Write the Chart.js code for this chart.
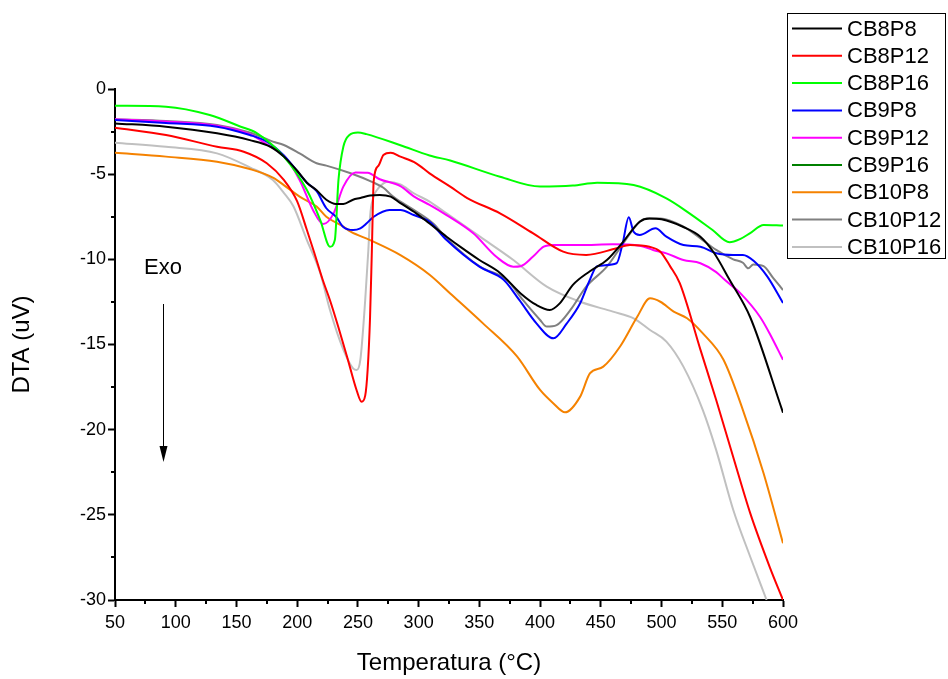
<!DOCTYPE html>
<html>
<head>
<meta charset="utf-8">
<script src="https://cdn.jsdelivr.net/npm/chart.js@4.4.1/dist/chart.umd.min.js"></script>
<style>
  html, body { margin: 0; padding: 0; background: #fff; }
  #wrap { width: 948px; height: 679px; position: relative; }
</style>
</head>
<body>
<div id="wrap"><canvas id="c" width="948" height="679"></canvas></div>
<script>
// ---- Data (temperature °C / DTA uV) ----
const seriesNames = ["CB8P8","CB8P12","CB8P16","CB9P8","CB9P12","CB9P16","CB10P8","CB10P12","CB10P16"];

const cb8p8T = [50,92,134,161,178,189,200,208,216,224,232,238,246,252,260,268,277,285,298,309,323,335,350,367,384,397,408,416,427,441,455,468,482,490,500,518,532,543,556,573,600];
const cb8p8V = [-2.02,-2.21,-2.6,-3.0,-3.39,-3.97,-4.8,-5.5,-5.95,-6.5,-6.75,-6.75,-6.5,-6.4,-6.25,-6.22,-6.32,-6.7,-7.3,-7.9,-8.67,-9.3,-10.04,-10.8,-12.0,-12.68,-12.97,-12.6,-11.5,-10.7,-10.04,-9.0,-7.79,-7.6,-7.65,-8.1,-8.67,-9.6,-11.2,-13.4,-19.0];

const cb8p12T = [50,92,134,156,175,189,200,208,214,221,227,234,241,249,253,256,258,260,261.5,263,267,271,277,285,298,309,326,340,367,394,419,438,463,474,490,499,507,515,532,545,559,573,589,600];
const cb8p12V = [-2.27,-2.7,-3.39,-3.68,-4.36,-5.34,-6.6,-8.28,-9.6,-11.2,-12.4,-14.0,-15.7,-17.7,-18.36,-18.0,-16.5,-13.4,-9.45,-5.4,-4.5,-3.87,-3.74,-3.97,-4.36,-4.95,-5.73,-6.4,-7.3,-8.46,-9.55,-9.74,-9.35,-9.16,-9.26,-9.55,-10.4,-11.4,-15.3,-18.26,-21.6,-24.9,-28.05,-30.0];

const cb8p16T = [50,92,128,153,167,189,208,219,227,231,234,238,243,250,257,285,309,326,367,400,427,447,477,504,523,542,556,565,573,584,600];
const cb8p16V = [-0.98,-1.04,-1.53,-2.2,-2.6,-3.97,-5.93,-7.7,-9.26,-8.87,-5.34,-3.39,-2.7,-2.55,-2.65,-3.3,-3.9,-4.2,-5.15,-5.73,-5.67,-5.5,-5.64,-6.42,-7.3,-8.28,-9.0,-8.8,-8.46,-7.98,-8.02];

const cb9p8T = [50,92,134,161,175,189,208,216,224,232,238,246,252,257,263,276,285,296,309,323,350,370,383,397,411,422,433,441,447,463,468,473,477,482,495,504,518,532,545,559,567,576,587,600];
const cb9p8V = [-1.82,-2.0,-2.21,-2.7,-3.09,-3.9,-5.5,-6.0,-7.0,-7.5,-8.1,-8.28,-8.18,-7.9,-7.5,-7.1,-7.1,-7.4,-7.8,-8.87,-10.43,-11.2,-12.4,-13.76,-14.64,-13.76,-12.58,-11.2,-10.4,-10.23,-9.06,-7.53,-8.38,-8.57,-8.18,-8.67,-9.16,-9.26,-9.64,-9.74,-9.74,-10.1,-11.0,-12.56];

const cb9p12T = [50,92,134,161,178,189,202,213,221.5,230,238,248,258,268,285,296,309,323,345,364,378,384,394,403,411,433,460,482,493,504,518,532,545,552,565,581,589,600];
const cb9p12V = [-1.78,-1.91,-2.15,-2.65,-3.39,-3.9,-5.34,-7.1,-7.93,-7.3,-5.73,-4.9,-4.92,-5.3,-5.7,-6.3,-6.8,-7.4,-8.47,-9.85,-10.43,-10.4,-9.85,-9.26,-9.16,-9.16,-9.12,-9.2,-9.45,-9.65,-10.04,-10.23,-10.75,-11.2,-12.0,-13.37,-14.35,-15.9];

const cb9p16T = [];
const cb9p16V = [];

const cb10p8T = [50,92,134,161,180,189,202,216,224,238,244,260,285,309,326,353,381,400,411,420.5,433,441,452,466,480,490.5,499,510,521,534,551,567,584,600];
const cb10p8V = [-3.74,-3.97,-4.27,-4.7,-5.2,-5.64,-6.32,-6.9,-7.5,-8.08,-8.38,-8.87,-9.75,-10.9,-12.0,-13.76,-15.7,-17.67,-18.46,-18.98,-18.06,-16.7,-16.3,-15.1,-13.37,-12.29,-12.49,-13.07,-13.46,-14.35,-15.9,-18.85,-22.56,-26.67];

const cb10p12T = [50,92,134,161,180,189,202,216,224,244,263,271,279,296,312,323,350.5,372.5,386,400,405.5,413.6,425,438,455,468.5,482,488,499,518,532,545,559,567,571.4,575.5,584,592,600];
const cb10p12V = [-1.78,-1.88,-2.11,-2.55,-3.09,-3.29,-3.78,-4.36,-4.5,-4.95,-5.5,-5.8,-6.32,-7.1,-7.9,-8.77,-10.43,-11.2,-12.4,-13.56,-13.95,-13.86,-12.97,-11.6,-10.43,-9.06,-7.79,-7.6,-7.6,-8.08,-8.77,-9.45,-10.0,-10.2,-10.53,-10.3,-10.4,-11.1,-11.8];

const cb10p16T = [50,92,134,161,180,189,197,208,219,227,238,246,249,252,256,258.6,260,263,266,271,274,285,296,309,323,350.5,378,405.5,433,460,477,490.5,504,518,534,545,559,573,586.5];
const cb10p16V = [-3.15,-3.39,-3.78,-4.6,-5.34,-6.1,-6.9,-8.87,-10.8,-12.97,-15.3,-16.4,-16.5,-15.9,-12.4,-9.45,-7.5,-6.3,-5.9,-5.54,-5.44,-5.6,-6.12,-6.61,-7.3,-8.67,-10.04,-11.6,-12.49,-13.07,-13.46,-14.15,-14.83,-16.3,-18.85,-21.2,-24.7,-27.46,-30.0];

const xTicks = [50,100,150,200,250,300,350,400,450,500,550,600];
const yTicks = [0,-5,-10,-15,-20,-25,-30];

// ---- Styling ----
const colors = ["#000000","#ff0000","#00ff00","#0000ff","#ff00ff","#008000","#f58200","#808080","#c0c0c0"];
const seriesT = [cb8p8T,cb8p12T,cb8p16T,cb9p8T,cb9p12T,cb9p16T,cb10p8T,cb10p12T,cb10p16T];
const seriesV = [cb8p8V,cb8p12V,cb8p16V,cb9p8V,cb9p12V,cb9p16V,cb10p8V,cb10p12V,cb10p16V];
const FONT = "'Liberation Sans', Arial, Helvetica, sans-serif";

const datasets = seriesNames.map((name, i) => ({
  label: name,
  data: seriesT[i].map((t, k) => ({ x: t, y: seriesV[i][k] })),
  borderColor: colors[i],
  backgroundColor: colors[i],
  borderWidth: 2,
  pointRadius: 0,
  fill: false,
  cubicInterpolationMode: 'monotone'
}));

const decorPlugin = {
  id: 'decor',
  afterDraw(chart) {
    const ctx = chart.ctx;
    const xs = chart.scales.x, ys = chart.scales.y;
    const area = chart.chartArea;
    ctx.save();
    // minor ticks
    ctx.strokeStyle = '#000';
    ctx.lineWidth = 2;
    for (let i = 0; i < xTicks.length - 1; i++) {
      const v = (xTicks[i] + xTicks[i + 1]) / 2;
      const px = Math.round(xs.getPixelForValue(v));
      ctx.beginPath(); ctx.moveTo(px, area.bottom); ctx.lineTo(px, area.bottom + 4); ctx.stroke();
    }
    for (let i = 0; i < yTicks.length - 1; i++) {
      const v = (yTicks[i] + yTicks[i + 1]) / 2;
      const py = Math.round(ys.getPixelForValue(v));
      ctx.beginPath(); ctx.moveTo(area.left, py); ctx.lineTo(area.left - 4, py); ctx.stroke();
    }
    // axis titles
    ctx.fillStyle = '#000';
    ctx.font = `24px ${FONT}`;
    ctx.textAlign = 'center';
    ctx.textBaseline = 'middle';
    ctx.fillText('Temperatura (°C)', (area.left + area.right) / 2, 663);
    ctx.save();
    ctx.translate(22, (area.top + area.bottom) / 2);
    ctx.rotate(-Math.PI / 2);
    ctx.fillText('DTA (uV)', 0, 0);
    ctx.restore();
    // Exo + arrow
    ctx.font = `22px ${FONT}`;
    ctx.textAlign = 'left';
    ctx.fillText('Exo', 144, 268);
    ctx.lineWidth = 1;
    ctx.beginPath(); ctx.moveTo(163.5, 304); ctx.lineTo(163.5, 450); ctx.stroke();
    ctx.beginPath(); ctx.moveTo(159.5, 446); ctx.lineTo(167.5, 446); ctx.lineTo(163.5, 462); ctx.closePath(); ctx.fill();
    // legend
    ctx.lineWidth = 1;
    ctx.strokeRect(787.5, 13.5, 158, 245);
    ctx.font = `22px ${FONT}`;
    chart.data.datasets.forEach((ds, i) => {
      const y = 28.5 + i * 27.3;
      ctx.strokeStyle = ds.borderColor;
      ctx.lineWidth = 2;
      ctx.beginPath(); ctx.moveTo(792, y); ctx.lineTo(842, y); ctx.stroke();
      ctx.fillStyle = '#000';
      ctx.textBaseline = 'middle';
      ctx.fillText(ds.label, 847, y + 1);
    });
    ctx.restore();
  }
};

new Chart(document.getElementById('c'), {
  type: 'line',
  data: { datasets },
  options: {
    responsive: false,
    animation: false,
    layout: { padding: { top: 89, right: 165, left: 0, bottom: 0 } },
    plugins: { legend: { display: false }, tooltip: { enabled: false }, title: { display: false } },
    scales: {
      x: {
        type: 'linear', min: 50, max: 600,
        afterBuildTicks: (s) => { s.ticks = xTicks.map(v => ({ value: v })); },
        afterFit: (s) => { s.height = 79; },
        grid: { display: true, drawOnChartArea: false, drawTicks: true, tickLength: 7, tickColor: '#000', tickWidth: 2 },
        border: { display: true, color: '#000', width: 2 },
        ticks: { color: '#000', font: { family: FONT, size: 18 }, padding: 5, maxRotation: 0 }
      },
      y: {
        type: 'linear', min: -30, max: 0,
        afterBuildTicks: (s) => { s.ticks = yTicks.map(v => ({ value: v })); },
        afterFit: (s) => { s.width = 115; },
        grid: { display: true, drawOnChartArea: false, drawTicks: true, tickLength: 7, tickColor: '#000', tickWidth: 2 },
        border: { display: true, color: '#000', width: 2 },
        ticks: { color: '#000', font: { family: FONT, size: 18 }, padding: 2 }
      }
    }
  },
  plugins: [decorPlugin]
});
</script>
</body>
</html>
